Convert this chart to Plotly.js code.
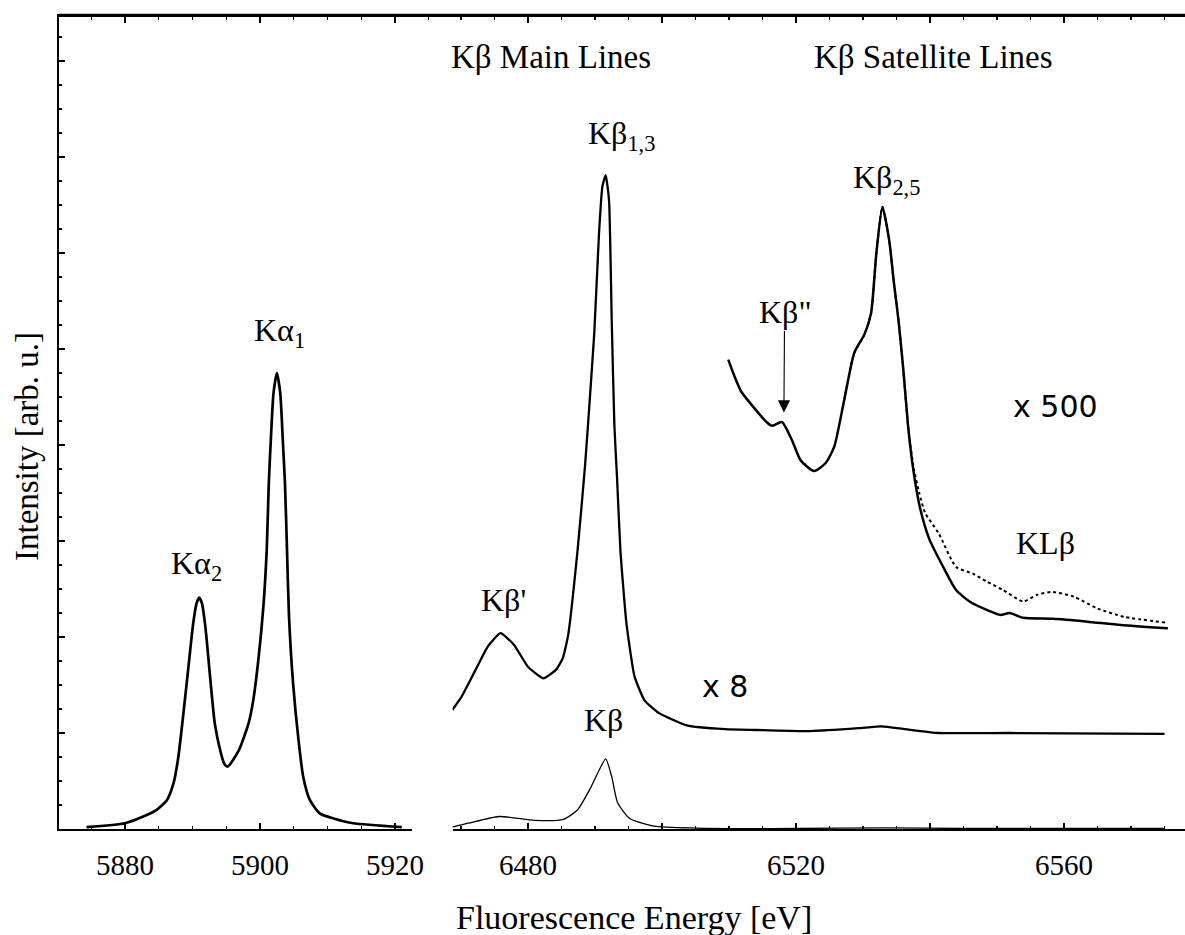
<!DOCTYPE html>
<html>
<head>
<meta charset="utf-8">
<script src="https://cdn.plot.ly/plotly-3.0.1.min.js"></script>
<style>html,body{margin:0;padding:0;background:#fff;}</style>
</head>
<body>
<div id="chart" style="width:1185px;height:935px;"></div>
<script>
// ---------- data ----------
// K-alpha region (eV, arb. u.)
const kaEnergy = [5874.3, 5880.0, 5882.7, 5884.7, 5886.2, 5887.2, 5887.9, 5888.6, 5889.4, 5890.1, 5890.6, 5891.0, 5891.4, 5891.9, 5892.6, 5893.3, 5894.1, 5894.7, 5895.2, 5896.8, 5898.3, 5899.0, 5899.8, 5900.5, 5901.0, 5901.3, 5901.6, 5902.0, 5902.5, 5903.0, 5903.4, 5903.7, 5904.0, 5904.3, 5904.9, 5905.7, 5906.4, 5907.4, 5908.9, 5910.9, 5913.8, 5921.0];
const kaIntensity = [0.02, 0.06, 0.13, 0.20, 0.30, 0.48, 0.75, 1.17, 1.69, 2.14, 2.35, 2.41, 2.35, 2.11, 1.59, 1.10, 0.82, 0.68, 0.65, 0.81, 1.10, 1.34, 1.79, 2.32, 2.91, 3.60, 4.05, 4.54, 4.75, 4.54, 4.02, 3.60, 2.91, 2.21, 1.52, 0.93, 0.545, 0.30, 0.16, 0.11, 0.06, 0.02];

// K-beta region, unscaled
const kbEnergy = [6468.7, 6471.1, 6475.7, 6481.0, 6485.3, 6487.4, 6489.2, 6490.6, 6491.6, 6492.5, 6493.4, 6495.2, 6498.8, 6505.0, 6520.0, 6533.0, 6545.0, 6575.0];
const kbIntensity = [0.02, 0.06, 0.13, 0.09, 0.10, 0.20, 0.41, 0.61, 0.73, 0.545, 0.27, 0.11, 0.03, 0.01, 0.005, 0.012, 0.005, 0.005];

// K-beta region, x 8
const kb8Energy = [6468.7, 6470.1, 6472.2, 6474.0, 6475.9, 6477.9, 6480.0, 6482.3, 6484.2, 6485.2, 6486.0, 6487.4, 6488.5, 6489.2, 6489.9, 6490.6, 6491.1, 6491.6, 6492.1, 6492.5, 6492.9, 6493.3, 6493.8, 6494.7, 6495.9, 6497.4, 6499.5, 6503.7, 6509.4, 6515.0, 6522.2, 6529.3, 6532.8, 6536.3, 6541.3, 6551.9, 6575.0];
const kb8Intensity = [1.24, 1.38, 1.66, 1.90, 2.04, 1.92, 1.69, 1.57, 1.66, 1.78, 2.02, 2.90, 3.77, 4.45, 5.17, 6.20, 6.69, 6.81, 6.55, 5.30, 4.20, 3.65, 2.90, 2.14, 1.59, 1.34, 1.21, 1.08, 1.04, 1.03, 1.02, 1.05, 1.07, 1.04, 1.00, 1.00, 0.99];

// K-beta satellite region, x 500 (solid)
const kb500Energy = [6509.9, 6510.8, 6511.8, 6513.6, 6515.6, 6516.4, 6517.9, 6519.4, 6520.7, 6522.7, 6524.4, 6525.7, 6527.2, 6528.7, 6530.2, 6531.2, 6532.0, 6532.9, 6533.9, 6534.6, 6535.3, 6536.0, 6536.8, 6537.6, 6538.5, 6539.9, 6541.9, 6543.9, 6545.9, 6548.9, 6550.5, 6551.9, 6553.9, 6558.4, 6563.5, 6568.5, 6575.5];
const kb500Intensity = [4.89, 4.72, 4.56, 4.40, 4.24, 4.20, 4.24, 4.05, 3.84, 3.73, 3.81, 3.98, 4.47, 4.96, 5.15, 5.37, 6.00, 6.48, 6.14, 5.70, 5.30, 4.80, 4.15, 3.70, 3.35, 3.02, 2.74, 2.49, 2.37, 2.27, 2.23, 2.25, 2.20, 2.19, 2.16, 2.125, 2.09];

// K-beta satellite region, x 500 (dotted)
const kb500bEnergy = [6527.2, 6528.7, 6530.2, 6531.2, 6532.0, 6532.9, 6533.9, 6534.6, 6535.3, 6536.0, 6536.8, 6537.6, 6538.4, 6539.3, 6541.3, 6543.9, 6546.4, 6548.4, 6550.9, 6553.9, 6556.0, 6558.2, 6561.5, 6564.9, 6569.0, 6575.2];
const kb500bIntensity = [4.47, 4.96, 5.15, 5.37, 6.00, 6.48, 6.14, 5.70, 5.30, 4.80, 4.15, 3.75, 3.50, 3.29, 3.08, 2.73, 2.66, 2.58, 2.49, 2.37, 2.44, 2.47, 2.42, 2.30, 2.21, 2.15];

// tick labels
const leftTickVals = [5880, 5900, 5920];
const leftTickText = ['5880', '5900', '5920'];
const rightTickVals = [6480, 6500, 6520, 6540, 6560];
const rightTickText = ['6480', '', '6520', '', '6560'];
const minorStep = 5;

// ---------- styling ----------
const serif = 'Liberation Serif, Times New Roman, serif';
const sans = 'DejaVu Sans, Verdana, sans-serif';
const axisCommon = {
  showgrid: false, zeroline: false, linecolor: 'black', linewidth: 1.6, showline: true,
  ticks: 'inside', ticklen: 6, tickwidth: 1.4, tickcolor: 'black',
  tickfont: {family: serif, size: 29, color: 'black'}, ticklabelstandoff: 10
};
const minorCommon = {ticks: 'inside', ticklen: 3, tickwidth: 1.2, tickcolor: 'black', tickmode: 'linear', dtick: minorStep};
// top frame axes: bottom axes of a hairline strip at the top, ticks pointing down into the plot
const topAxisCommon = Object.assign({}, axisCommon, {
  anchor: 'y2', side: 'bottom', ticks: 'outside', showticklabels: false, tickmode: 'array'
});
const topMinor = {ticks: 'outside', ticklen: 3, tickwidth: 1.2, tickcolor: 'black', tickmode: 'linear', dtick: minorStep};

const traces = [
  {x: kaEnergy, y: kaIntensity, xaxis: 'x', yaxis: 'y', mode: 'lines',
   line: {color: 'black', width: 2.7, shape: 'spline', smoothing: 0.6}},
  {x: kbEnergy, y: kbIntensity, xaxis: 'x2', yaxis: 'y', mode: 'lines',
   line: {color: 'black', width: 1.3, shape: 'spline', smoothing: 0.6}},
  {x: kb8Energy, y: kb8Intensity, xaxis: 'x2', yaxis: 'y', mode: 'lines',
   line: {color: 'black', width: 2.3, shape: 'spline', smoothing: 0.45}},
  {x: kb500bEnergy, y: kb500bIntensity, xaxis: 'x2', yaxis: 'y', mode: 'lines',
   line: {color: 'black', width: 2.0, dash: 'dot', shape: 'spline', smoothing: 0.6}},
  {x: kb500Energy, y: kb500Intensity, xaxis: 'x2', yaxis: 'y', mode: 'lines',
   line: {color: 'black', width: 2.5, shape: 'spline', smoothing: 0.6}},
  // transparent copies that create the top-frame subplots
  {x: kaEnergy, y: kaIntensity, xaxis: 'x3', yaxis: 'y2', mode: 'lines', opacity: 0, hoverinfo: 'skip',
   line: {color: 'black', width: 1}},
  {x: kbEnergy, y: kbIntensity, xaxis: 'x4', yaxis: 'y2', mode: 'lines', opacity: 0, hoverinfo: 'skip',
   line: {color: 'black', width: 1}}
];

function ann(text, x, xref, y, size, family, extra) {
  return Object.assign({text: text, x: x, y: y, xref: xref, yref: 'y', showarrow: false,
    xanchor: 'center', yanchor: 'middle', font: {family: family || serif, size: size || 32, color: 'black'}}, extra || {});
}

const annotations = [
  ann('K\u03b1<sub>2</sub>', 5890.6, 'x', 2.74),
  ann('K\u03b1<sub>1</sub>', 5902.9, 'x', 5.17),
  ann('K\u03b2 Main Lines', 6483.4, 'x2', 8.04, 33),
  ann('K\u03b2 Satellite Lines', 6540.6, 'x2', 8.04, 33),
  ann('K\u03b2<sub>1,3</sub>', 6494.0, 'x2', 7.22),
  ann('K\u03b2<sub>2,5</sub>', 6533.5, 'x2', 6.77),
  ann("K\u03b2'", 6476.4, 'x2', 2.39),
  ann('K\u03b2', 6491.2, 'x2', 1.14),
  ann('KL\u03b2', 6557.2, 'x2', 2.98),
  ann('x 500', 6558.8, 'x2', 4.40, 30, sans),
  ann('x 8', 6509.4, 'x2', 1.48, 30, sans),
  // arrow annotation: text sits at (ax, ay), arrow tip at (x, y)
  ann('K\u03b2"', 6518.2, 'x2', 4.34, 32, serif,
      {showarrow: true, ax: 6518.3, ay: 5.39, axref: 'x2', ayref: 'y',
       arrowhead: 2, arrowsize: 2.2, arrowwidth: 1.1, arrowcolor: 'black', standoff: 0, startstandoff: 0}),
  // axis titles
  {text: 'Fluorescence Energy [eV]', xref: 'paper', yref: 'paper', x: 0.5107, y: -0.1092,
   xanchor: 'center', yanchor: 'middle', showarrow: false, font: {family: serif, size: 34, color: 'black'}},
  {text: 'Intensity [arb. u.]', xref: 'paper', yref: 'paper', x: -0.0284, y: 0.4687, textangle: -90,
   xanchor: 'center', yanchor: 'middle', showarrow: false, font: {family: serif, size: 33, color: 'black'}}
];

// top frame line, continuous across the axis break
const shapes = [
  {type: 'line', xref: 'paper', yref: 'paper', x0: 0, x1: 1, y0: 0.999, y1: 0.999, layer: 'above',
   line: {color: 'black', width: 2.2}}
];

const layout = {
  width: 1185, height: 935,
  margin: {l: 59, r: 0, t: 14, b: 106, pad: 0},
  paper_bgcolor: 'white', plot_bgcolor: 'rgba(0,0,0,0)',
  showlegend: false,
  font: {family: serif, color: 'black'},
  xaxis: Object.assign({}, axisCommon, {
    domain: [0, 0.3135], range: [5870.22, 5922.52], anchor: 'y', side: 'bottom',
    tickmode: 'array', tickvals: leftTickVals, ticktext: leftTickText,
    minor: Object.assign({}, minorCommon, {tick0: 5875})
  }),
  xaxis2: Object.assign({}, axisCommon, {
    domain: [0.3496, 1], range: [6468.76, 6578.06], anchor: 'y', side: 'bottom',
    tickmode: 'array', tickvals: rightTickVals, ticktext: rightTickText,
    minor: Object.assign({}, minorCommon, {tick0: 6470})
  }),
  xaxis3: Object.assign({}, topAxisCommon, {
    domain: [0, 0.3496], range: [5870.22, 5928.55], tickvals: leftTickVals,
    minor: Object.assign({}, topMinor, {tick0: 5875})
  }),
  xaxis4: Object.assign({}, topAxisCommon, {
    domain: [0.3496, 1], range: [6468.76, 6578.06], tickvals: rightTickVals,
    minor: Object.assign({}, topMinor, {tick0: 6470})
  }),
  yaxis: Object.assign({}, axisCommon, {
    domain: [0, 1], range: [0, 8.49], showticklabels: false,
    tickmode: 'linear', tick0: 0, dtick: 1,
    minor: {ticks: 'inside', ticklen: 3, tickwidth: 1.2, tickcolor: 'black', tickmode: 'linear', tick0: 0, dtick: 0.25}
  }),
  yaxis2: {
    domain: [0.998, 0.999], range: [0, 1], anchor: 'x3', showline: false, showgrid: false, zeroline: false,
    ticks: '', showticklabels: false
  },
  shapes: shapes,
  annotations: annotations
};

Plotly.newPlot('chart', traces, layout, {staticPlot: true, displayModeBar: false});
</script>
</body>
</html>
